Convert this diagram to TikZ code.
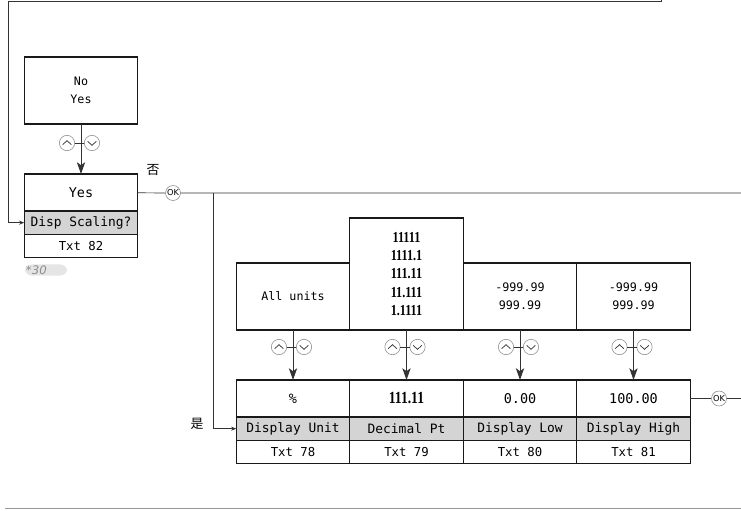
\documentclass[tikz,border=0pt]{standalone}
\usepackage{fontspec}
\setmainfont{DejaVu Sans}
\newfontfamily\lcdfont{DejaVu Sans Mono}
\newfontfamily\numfont[FakeStretch=0.8]{Liberation Serif}
\newfontfamily\cjkfont{Noto Sans CJK SC}
\usetikzlibrary{positioning, arrows.meta}

\tikzset{
  link/.style={draw=black!80, line width=0.6pt},
  flow/.style={link, line width=0.8pt, -{Stealth[length=10pt, width=7pt, inset=2.5pt]}},
  entry/.style={link, -{Stealth[length=4.5pt, width=3.4pt]}}
}

\begin{document}
\begin{tikzpicture}[
  x=0.03cm, y=-0.03cm,
  box/.style={rectangle, draw=black!90, line width=0.9pt, inner sep=0pt,
    outer sep=0pt, minimum width=3.4cm, align=center},
  selbox/.style={box, minimum height=2.01cm,
    font=\lcdfont\fontsize{10}{15.4}\selectfont},
  valrow/.style={box, minimum height=1.11cm,
    font=\lcdfont\fontsize{11.5}{12}\selectfont},
  tagrow/.style={box, fill=black!17, minimum height=0.7cm,
    font=\lcdfont\fontsize{11}{12}\selectfont},
  txtrow/.style={box, minimum height=0.69cm,
    font=\lcdfont\fontsize{10.5}{12}\selectfont},
  key/.style={circle, draw=black!45, fill=white, line width=0.5pt,
    minimum size=0.46cm, inner sep=0pt},
  upkey/.style={key, path picture={
    \draw[black!80, line width=0.6pt]
      ([shift={(-0.13cm,-0.05cm)}]path picture bounding box.center)
      -- ([shift={(0cm,0.07cm)}]path picture bounding box.center)
      -- ([shift={(0.13cm,-0.05cm)}]path picture bounding box.center);}},
  downkey/.style={key, path picture={
    \draw[black!80, line width=0.6pt]
      ([shift={(-0.13cm,0.05cm)}]path picture bounding box.center)
      -- ([shift={(0cm,-0.07cm)}]path picture bounding box.center)
      -- ([shift={(0.13cm,0.05cm)}]path picture bounding box.center);}},
  okkey/.style={circle, draw=black!45, fill=white, line width=0.5pt,
    minimum size=0.45cm, inner sep=0pt, font=\fontsize{7}{7}\selectfont},
  mark30/.style={fill=black!10, rounded corners=6pt, text=black!45,
    font=\itshape\fontsize{10}{10}\selectfont, inner sep=1pt,
    text width=1.2cm, minimum height=0.33cm, align=left}
]
  \useasboundingbox (0,0) rectangle (741,510);

  % Disp Scaling
  \node[selbox] (sel0) at (81,90.5) {No\\Yes};
  \node[valrow] (val0) at (81,192.5) {Yes};
  \node[tagrow, below=0pt of val0] (tag0) {Disp Scaling?};
  \node[txtrow, below=0pt of tag0] (txt0) {Txt 82};
  \node[mark30] (note0) at (46,270) {*30};

  % scaling parameters
  \node[selbox] (sel1) at (293,296.5) {All units};
  \node[selbox, minimum height=3.36cm,
    font=\numfont\bfseries\fontsize{13}{15.6}\selectfont]
    (sel2) at (406.5,274) {11111\\1111.1\\111.11\\11.111\\1.1111};
  \node[selbox] (sel3) at (520,296.5) {-999.99\\999.99};
  \node[selbox] (sel4) at (633.5,296.5) {-999.99\\999.99};

  \node[valrow] (val1) at (293,398.5) {\%};
  \node[valrow, font=\numfont\bfseries\fontsize{14.5}{14.5}\selectfont]
    (val2) at (406.5,398.5) {111.11};
  \node[valrow] (val3) at (520,398.5) {0.00};
  \node[valrow] (val4) at (633.5,398.5) {100.00};

  \node[tagrow, below=0pt of val1] (tag1) {Display Unit};
  \node[tagrow, below=0pt of val2] (tag2) {Decimal Pt};
  \node[tagrow, below=0pt of val3] (tag3) {Display Low};
  \node[tagrow, below=0pt of val4] (tag4) {Display High};

  \node[txtrow, below=0pt of tag1] (txt1) {Txt 78};
  \node[txtrow, below=0pt of tag2] (txt2) {Txt 79};
  \node[txtrow, below=0pt of tag3] (txt3) {Txt 80};
  \node[txtrow, below=0pt of tag4] (txt4) {Txt 81};

  % selection arrows with up/down keys
  \draw[flow] (sel0) -- (val0);
  \node[upkey] (up0) at (67,143) {};
  \node[downkey] (dn0) at (92,143) {};
  \draw[link] (up0) -- (dn0);
  \foreach \i/\x in {1/293, 2/406.5, 3/520, 4/633.5} {
    \draw[flow] (sel\i) -- (val\i);
    \node[upkey] (up\i) at (\x-14,347) {};
    \node[downkey] (dn\i) at (\x+11,347) {};
    \draw[link] (up\i) -- (dn\i);
  }

  % OK and branches
  \node[okkey] (ok0) at (173,193) {OK};
  \node[okkey] (ok1) at (719,398.5) {OK};
  \coordinate (right0) at (741,193);
  \coordinate (right1) at (741,398.5);
  \coordinate (split) at (213,193);
  \coordinate (topR) at (661,0);
  \coordinate (topL) at (8,1.5);

  \draw[link] (val0) -- (ok0) -- (right0);
  \draw[entry] (split) |- (tag1.west);
  \draw[link] (val4) -- (ok1) -- (right1);
  \draw[entry, line width=0.8pt] (topR) |- (topL) |- (tag0.west);

  \node[font=\cjkfont\fontsize{11}{11}\selectfont] (no) at (153,170) {否};
  \node[font=\cjkfont\fontsize{11}{11}\selectfont] (yes) at (197,424) {是};

  % bottom rule
  \draw[black!40, line width=0.9pt] (5,508.5) -- (741,508.5);
\end{tikzpicture}
\end{document}
